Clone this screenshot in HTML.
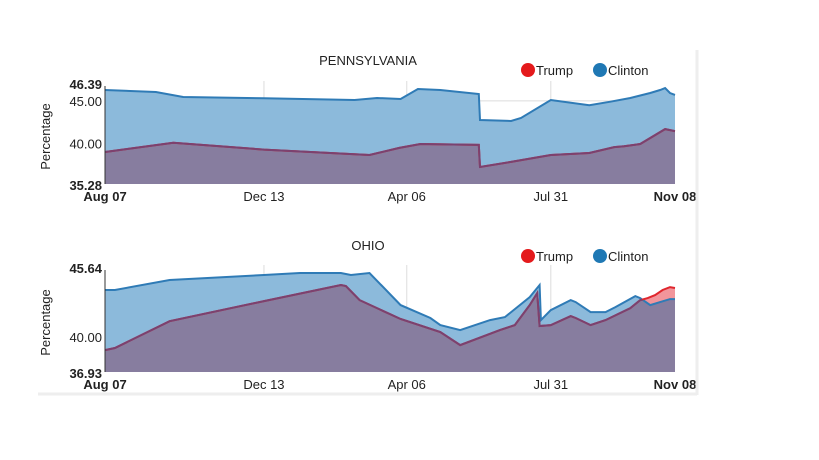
<!DOCTYPE html>
<html><head><meta charset="utf-8"><style>
html,body{margin:0;padding:0;background:#fff;}
svg{display:block;font-family:"Liberation Sans",sans-serif;}
</style></head><body>
<svg id="c" width="819" height="460"></svg>
<script>
const tickLabels=["Aug 07","Dec 13","Apr 06","Jul 31","Nov 08"];
const tickDays=[0,128,243,359,459];
const paClintonDays=[0,41,63,128,201,219,238,252,270,301,302,327,335,359,390,407,423,439,447,451,455,459];
const paClintonVals=[46.27,46.04,45.45,45.3,45.1,45.34,45.22,46.39,46.27,45.8,42.76,42.65,43.0,45.1,44.5,44.9,45.34,45.92,46.27,46.5,45.92,45.7];
const paTrumpDays=[0,55,128,213,237,254,301,302,327,359,390,410,418,431,451,459];
const paTrumpVals=[39.02,40.1,39.3,38.67,39.5,39.96,39.85,37.27,37.86,38.67,38.9,39.6,39.7,39.96,41.7,41.47];
const ohClintonDays=[0,8,52,128,157,190,198,213,238,262,270,286,310,322,334,342,350,351,359,375,379,391,403,411,427,431,439,447,455,459];
const ohClintonVals=[44.14,44.14,45.02,45.46,45.64,45.64,45.46,45.64,42.82,41.68,41.06,40.62,41.5,41.76,42.82,43.52,44.58,41.5,42.38,43.26,43.08,42.2,42.2,42.64,43.61,43.43,42.82,43.08,43.34,43.34];
const ohTrumpDays=[0,8,52,128,190,194,205,238,270,286,318,330,342,348,350,359,375,379,391,403,423,431,437,443,449,455,459];
const ohTrumpVals=[38.86,39.04,41.4,43.17,44.58,44.5,43.26,41.59,40.45,39.3,40.62,41.06,42.82,43.87,40.98,41.06,41.85,41.68,41.06,41.5,42.55,43.26,43.43,43.7,44.14,44.4,44.32];

const svg=document.getElementById('c');
const NS='http://www.w3.org/2000/svg';
function mk(tag,attrs,parent){const e=document.createElementNS(NS,tag);for(const k in attrs)e.setAttribute(k,attrs[k]);(parent||svg).appendChild(e);return e;}
const X0=105,X1=675,D=459;
function xs(d){return X0+d/D*(X1-X0);}

function panel(cfg){
  const ys=v=>cfg.bot-(v-cfg.min)/(cfg.max-cfg.min)*(cfg.bot-cfg.top);
  const g=mk('g',{});
  
  
  // grid
  tickDays.slice(1,4).forEach(d=>{const l=mk('line',{x1:xs(d),x2:xs(d),y1:cfg.top-8,y2:cfg.bot,stroke:'#dcdcdc','stroke-width':1},g);
    });
  cfg.grid.forEach(v=>{const l=mk('line',{x1:X0,x2:X1,y1:ys(v),y2:ys(v),stroke:'#dcdcdc','stroke-width':1},g);
    });
  const lineD=(ds,vs)=>ds.map((d,i)=>(i?'L':'M')+xs(d).toFixed(1)+','+ys(vs[i]).toFixed(1)).join('');
  const areaD=(ds,vs)=>lineD(ds,vs)+'L'+xs(ds[ds.length-1])+','+cfg.bot+'L'+xs(ds[0])+','+cfg.bot+'Z';
  const cid='clip-'+cfg.name;
  const defs=mk('defs',{},g);
  const cp=mk('clipPath',{id:cid},defs);
  mk('path',{d:areaD(cfg.cd,cfg.cv)},cp);
  const ca=mk('path',{d:areaD(cfg.cd,cfg.cv),fill:'#8cbadb'},g);
  
  const ta=mk('path',{d:areaD(cfg.td,cfg.tv),fill:'#f2959b'},g);
  
  const ov=mk('path',{d:areaD(cfg.td,cfg.tv),fill:'#877d9f','clip-path':'url(#'+cid+')'},g);
  
  const cl=mk('path',{d:lineD(cfg.cd,cfg.cv),fill:'none',stroke:'#2f7bb6','stroke-width':2},g);
  
  const tlr=mk('path',{d:lineD(cfg.td,cfg.tv),fill:'none',stroke:'#e0262d','stroke-width':2},g);
  
  const tl=mk('path',{d:lineD(cfg.td,cfg.tv),fill:'none',stroke:'#7a4270','stroke-width':2,'clip-path':'url(#'+cid+')'},g);
  
  const ax=mk('line',{x1:X0,x2:X0,y1:cfg.top-3,y2:cfg.bot,stroke:'#333','stroke-width':1},g);
  
  // y labels
  cfg.yl.forEach((v,i)=>{const t=mk('text',{x:X0-3,y:ys(v)+(i==0?0:(i==cfg.yl.length-1?6:5)),'text-anchor':'end','font-size':13,fill:'#222','font-weight':(i==0||i==cfg.yl.length-1)?'bold':'normal'},g);
    t.textContent=v.toFixed(2);});
  tickDays.forEach((d,i)=>{const t=mk('text',{x:xs(d),y:cfg.bot+17,'text-anchor':'middle','font-size':13,fill:'#222','font-weight':(i==0||i==4)?'bold':'normal'},g);
    t.textContent=tickLabels[i];});
  const yt=mk('text',{x:0,y:0,transform:'translate(50,'+((cfg.top+cfg.bot)/2)+') rotate(-90)','text-anchor':'middle','font-size':13,fill:'#222'},g);
  yt.textContent='Percentage';
  const tt=mk('text',{x:368,y:cfg.titleY,'text-anchor':'middle','font-size':13,fill:'#222'},g);
  tt.textContent=cfg.title;
  const lg=mk('g',{},g);
  const d1=mk('circle',{cx:528,cy:cfg.legY,r:7,fill:'#e41a1c'},lg);
  const t1=mk('text',{x:536,y:cfg.legY+5,'font-size':13,fill:'#222'},lg);t1.textContent='Trump';
  const d2=mk('circle',{cx:600,cy:cfg.legY,r:7,fill:'#1f78b4'},lg);
  const t2=mk('text',{x:608,y:cfg.legY+5,'font-size':13,fill:'#222'},lg);t2.textContent='Clinton';
}
panel({name:'pennsylvania-chart',title:'PENNSYLVANIA',titleY:65,legY:70,top:89,bot:184,min:35.28,max:46.39,grid:[45,40],yl:[46.39,45.00,40.00,35.28],cd:paClintonDays,cv:paClintonVals,td:paTrumpDays,tv:paTrumpVals});
panel({name:'ohio-chart',title:'OHIO',titleY:250,legY:256,top:273,bot:372,min:36.93,max:45.64,grid:[40],yl:[45.64,40.00,36.93],cd:ohClintonDays,cv:ohClintonVals,td:ohTrumpDays,tv:ohTrumpVals});
const b1=mk('line',{x1:697,x2:697,y1:50,y2:395,stroke:'#eeeeee','stroke-width':3});

const b2=mk('line',{x1:38,x2:697,y1:394,y2:394,stroke:'#eeeeee','stroke-width':3});

</script>
</body></html>
